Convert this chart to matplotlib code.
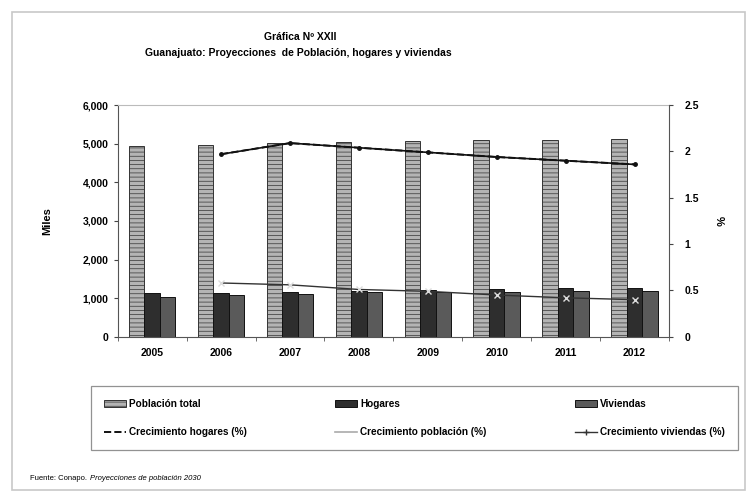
import matplotlib
matplotlib.use("Agg")
import matplotlib.pyplot as plt
import numpy as np
from matplotlib.ticker import FuncFormatter, FixedLocator
from matplotlib.patches import Rectangle

plt.rcParams['font.family'] = ['Liberation Sans', 'DejaVu Sans']
plt.rcParams['hatch.color'] = '#d2d2d2'
plt.rcParams['hatch.linewidth'] = 0.5

years = ['2005', '2006', '2007', '2008', '2009', '2010', '2011', '2012']
poblacion = [4950, 4965, 5010, 5035, 5065, 5090, 5100, 5125]
hogares = [1140, 1145, 1150, 1180, 1200, 1225, 1250, 1265]
viviendas = [1035, 1080, 1105, 1150, 1150, 1160, 1175, 1195]
crec_hogares = [None, 1.97, 2.09, 2.04, 1.99, 1.94, 1.90, 1.86]
crec_poblacion = [None, 0.58, 0.56, 0.51, 0.49, 0.45, 0.42, 0.40]
crec_viviendas = [None, 1.97, 2.09, 2.04, 1.99, 1.94, 1.90, 1.86]

fig = plt.figure(figsize=(7.5, 4.97), dpi=100)
fig.patch.set_facecolor('white')
# outer frame
fig.add_artist(Rectangle((12/750, 1-490/497), 733/750, 478/497, transform=fig.transFigure,
                         fill=False, edgecolor='#c8c8c8', linewidth=1.2))

ax = fig.add_axes([0.157, 0.3225, 0.735, 0.466])
ax.set_facecolor('white')
x = np.arange(len(years))
w = 0.225
ax.bar(x - w, poblacion, w, color='#b4b4b4', edgecolor='#333333', linewidth=0.7, hatch='----', zorder=2,
       label='Población total')
ax.bar(x, hogares, w, color='#2e2e2e', edgecolor='#111111', linewidth=0.7, zorder=2, label='Hogares')
ax.bar(x + w, viviendas, w, color='#5a5a5a', edgecolor='#111111', linewidth=0.7, zorder=2, label='Viviendas')

ax.set_xlim(-0.5, len(years) - 0.5)
ax.set_ylim(0, 6000)
ax.set_yticks(np.arange(0, 6001, 1000))
ax.yaxis.set_major_formatter(FuncFormatter(lambda v, p: f'{int(v):,}'))
ax.set_xticks(x)
ax.set_xticklabels(years)
ax.xaxis.set_minor_locator(FixedLocator(np.arange(-0.5, len(years), 1.0)))
ax.tick_params(axis='x', which='major', length=0, pad=8, labelsize=7.5)
ax.tick_params(axis='x', which='minor', length=3, color='#555555')
ax.tick_params(axis='y', length=3, labelsize=7.5, color='#444444')
for lab in ax.get_xticklabels() + ax.get_yticklabels():
    lab.set_fontweight('bold')
ax.spines['top'].set_color('#bbbbbb')
ax.spines['right'].set_visible(False)
ax.spines['left'].set_color('#555555')
ax.spines['bottom'].set_color('#555555')
ax.set_ylabel('Miles', fontsize=8, fontweight='bold', labelpad=22)

ax2 = ax.twinx()
ax2.set_ylim(0, 2.5)
ax2.set_yticks([0, 0.5, 1, 1.5, 2, 2.5])
ax2.set_yticklabels(['0', '0.5', '1', '1.5', '2', '2.5'])
ax2.tick_params(axis='y', length=3, labelsize=7.5, color='#444444', pad=8)
for lab in ax2.get_yticklabels():
    lab.set_fontweight('bold')
for s in ['top', 'left', 'bottom']:
    ax2.spines[s].set_visible(False)
ax2.spines['right'].set_color('#555555')
ax2.set_ylabel('%', fontsize=8, fontweight='bold', labelpad=18, rotation=-90)

def arr(v):
    return np.array([np.nan if a is None else a for a in v], dtype=float)

l_hog, = ax2.plot(x, arr(crec_hogares), color='#111111', linestyle='--', linewidth=1.4, zorder=3,
                  label='Crecimiento hogares (%)')
l_pob, = ax2.plot(x, arr(crec_poblacion), color='#333333', linewidth=1.0, marker='x', markersize=4,
                  markeredgecolor='#dddddd', zorder=3, label='Crecimiento población (%)')
l_viv, = ax2.plot(x, arr(crec_viviendas), color='#111111', linewidth=1.2, marker='o', markersize=2.5, zorder=4,
                  label='Crecimiento viviendas (%)')
l_pob_leg, = plt.plot([], [], color='#aaaaaa', linewidth=1.2, label='Crecimiento población (%)')
l_viv_leg, = plt.plot([], [], color='#333333', linewidth=1.0, marker='+', markersize=5,
                      label='Crecimiento viviendas (%)')

h1, lab1 = ax.get_legend_handles_labels()
handles = [h1[0], l_hog, h1[1], l_pob_leg, h1[2], l_viv_leg]
labels = [h1[0].get_label(), l_hog.get_label(), h1[1].get_label(), l_pob_leg.get_label(),
          h1[2].get_label(), l_viv_leg.get_label()]
leg = fig.legend(handles, labels, ncol=3, loc='lower left',
                 bbox_to_anchor=(86/750, 1-455/497, 657/750, 70/497), mode='expand',
                 fontsize=7.2, frameon=True, fancybox=False, edgecolor='#777777',
                 handlelength=2.2, handletextpad=0.3, labelspacing=1.8, borderpad=1.3)
for t in leg.get_texts():
    t.set_fontweight('bold')
leg.get_frame().set_linewidth(0.9)

fig.text(300/750, 1-37/497, 'Gráfica Nº XXII', ha='center', va='center', fontsize=7.5, fontweight='bold')
fig.text(298/750, 1-53/497, 'Guanajuato: Proyecciones  de Población, hogares y viviendas', ha='center',
         va='center', fontsize=7.5, fontweight='bold')
t1 = fig.text(30/750, 1-479/497, 'Fuente: Conapo.', ha='left', va='center', fontsize=5.5)
fig.canvas.draw()
bb = t1.get_window_extent(renderer=fig.canvas.get_renderer())
fig.text((bb.x1 + 3) / fig.bbox.width, 1-479/497, 'Proyecciones de población 2030', ha='left',
         va='center', fontsize=5.5, style='italic')

fig.savefig('out.png', dpi=100)
